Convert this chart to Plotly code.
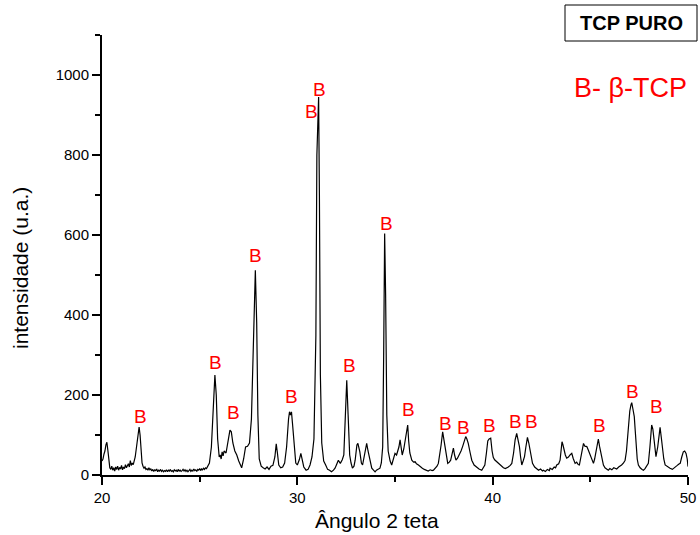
import plotly.graph_objects as go

# Diffractogram (2theta, intensity)
two_theta = [
    20.00, 20.05, 20.10, 20.15, 20.20, 20.25, 20.30, 20.35, 20.40, 20.45, 20.50, 20.55, 20.60, 20.65, 20.70,
    20.75, 20.80, 20.85, 20.90, 20.95, 21.00, 21.05, 21.10, 21.15, 21.20, 21.25, 21.30, 21.35, 21.40, 21.45,
    21.50, 21.55, 21.60, 21.70, 21.78, 21.85, 21.90, 21.95, 22.00, 22.05, 22.10, 22.15, 22.20, 22.25, 22.30,
    22.35, 22.40, 22.45, 22.50, 22.55, 22.60, 22.65, 22.70, 22.75, 22.80, 22.85, 22.90, 22.95, 23.00, 23.05,
    23.10, 23.15, 23.20, 23.25, 23.30, 23.35, 23.40, 23.45, 23.50, 23.55, 23.60, 23.65, 23.70, 23.75, 23.80,
    23.85, 23.90, 23.95, 24.00, 24.05, 24.10, 24.15, 24.20, 24.25, 24.30, 24.35, 24.40, 24.45, 24.50, 24.55,
    24.60, 24.65, 24.70, 24.75, 24.80, 24.85, 24.90, 24.95, 25.00, 25.05, 25.10, 25.15, 25.20, 25.25, 25.30,
    25.35, 25.40, 25.50, 25.60, 25.70, 25.78, 25.85, 25.92, 26.00, 26.05, 26.10, 26.15, 26.20, 26.25, 26.35,
    26.45, 26.55, 26.62, 26.70, 26.80, 26.90, 27.00, 27.10, 27.15, 27.25, 27.35, 27.45, 27.55, 27.65, 27.75,
    27.85, 27.92, 27.98, 28.05, 28.15, 28.25, 28.35, 28.45, 28.55, 28.65, 28.75, 28.85, 28.92, 28.98, 29.05,
    29.15, 29.25, 29.35, 29.45, 29.55, 29.60, 29.65, 29.70, 29.75, 29.85, 29.92, 30.00, 30.10, 30.18, 30.25,
    30.33, 30.45, 30.55, 30.65, 30.75, 30.85, 30.95, 31.00, 31.05, 31.09, 31.13, 31.18, 31.25, 31.35, 31.45,
    31.55, 31.65, 31.75, 31.85, 31.93, 32.00, 32.10, 32.20, 32.30, 32.38, 32.45, 32.53, 32.60, 32.68, 32.75,
    32.82, 32.90, 32.96, 33.05, 33.10, 33.20, 33.28, 33.34, 33.42, 33.48, 33.55, 33.62, 33.68, 33.75, 33.81,
    33.90, 33.98, 34.05, 34.15, 34.23, 34.30, 34.37, 34.42, 34.47, 34.52, 34.58, 34.65, 34.75, 34.83, 34.92,
    35.00, 35.08, 35.13, 35.20, 35.26, 35.32, 35.37, 35.45, 35.51, 35.58, 35.65, 35.70, 35.76, 35.86, 35.95,
    36.03, 36.10, 36.20, 36.30, 36.40, 36.50, 36.60, 36.70, 36.80, 36.90, 36.97, 37.05, 37.15, 37.22, 37.30,
    37.36, 37.44, 37.50, 37.55, 37.62, 37.70, 37.78, 37.85, 37.92, 37.99, 38.05, 38.12, 38.20, 38.29, 38.38,
    38.46, 38.55, 38.62, 38.68, 38.75, 38.85, 38.93, 39.05, 39.18, 39.30, 39.44, 39.52, 39.60, 39.68, 39.75,
    39.82, 39.90, 39.97, 40.03, 40.10, 40.20, 40.30, 40.40, 40.47, 40.55, 40.65, 40.72, 40.80, 40.90, 40.98,
    41.07, 41.15, 41.23, 41.30, 41.37, 41.43, 41.49, 41.56, 41.63, 41.70, 41.78, 41.85, 41.92, 41.98, 42.04,
    42.15, 42.25, 42.35, 42.45, 42.55, 42.60, 42.70, 42.80, 42.90, 42.94, 43.05, 43.15, 43.22, 43.28, 43.38,
    43.45, 43.50, 43.55, 43.60, 43.65, 43.72, 43.79, 43.88, 43.96, 44.05, 44.12, 44.22, 44.30, 44.38, 44.44,
    44.52, 44.58, 44.65, 44.72, 44.82, 44.90, 44.99, 45.08, 45.16, 45.22, 45.29, 45.35, 45.41, 45.47, 45.53,
    45.60, 45.67, 45.75, 45.85, 45.92, 46.00, 46.10, 46.20, 46.27, 46.35, 46.45, 46.55, 46.60, 46.70, 46.78,
    46.85, 46.95, 47.02, 47.08, 47.12, 47.18, 47.25, 47.30, 47.34, 47.40, 47.46, 47.55, 47.65, 47.72, 47.80,
    47.90, 47.97, 48.05, 48.14, 48.20, 48.25, 48.30, 48.36, 48.45, 48.52, 48.57, 48.63, 48.69, 48.76, 48.83,
    48.95, 49.08, 49.20, 49.34, 49.45, 49.52, 49.60, 49.68, 49.76, 49.83, 49.90, 49.96, 50.00,
]
intensity = [
    35, 40, 52, 60, 75, 82, 62, 30, 18, 14, 22, 12, 18, 10, 20,
    14, 22, 12, 19, 15, 24, 13, 20, 16, 26, 18, 22, 28, 20, 36,
    24, 30, 26, 45, 75, 110, 120, 100, 55, 30, 22, 17, 20, 14, 16,
    12, 18, 13, 15, 10, 14, 9, 13, 11, 15, 8, 12, 10, 14, 9,
    12, 8, 11, 9, 13, 8, 12, 10, 14, 9, 11, 8, 13, 10, 12,
    8, 14, 10, 12, 9, 11, 14, 10, 13, 9, 12, 8, 11, 14, 9,
    12, 10, 15, 11, 13, 9, 14, 12, 16, 11, 15, 13, 17, 14, 18,
    16, 20, 30, 70, 170, 250, 200, 90, 45, 50, 40, 58, 48, 60, 55,
    80, 112, 108, 80, 60, 50, 35, 20, 18, 40, 70, 72, 80, 140, 330,
    512, 380, 150, 40, 22, 18, 15, 20, 14, 22, 24, 45, 78, 55, 25,
    18, 20, 30, 70, 140, 158, 150, 158, 130, 60, 30, 25, 38, 54, 35,
    20, 12, 14, 25, 45, 90, 350, 800, 905, 945, 700, 250, 80, 35, 25,
    14, 12, 8, 12, 17, 25, 37, 29, 38, 50, 130, 237, 150, 50, 30,
    17, 22, 37, 75, 79, 58, 30, 25, 45, 68, 79, 60, 46, 25, 17,
    12, 8, 12, 14, 17, 30, 70, 300, 604, 450, 150, 60, 35, 25, 40,
    54, 50, 58, 70, 88, 60, 50, 65, 84, 100, 125, 85, 55, 37, 32,
    33, 28, 25, 20, 17, 14, 12, 10, 13, 11, 12, 16, 22, 29, 50,
    75, 108, 90, 71, 45, 29, 32, 37, 52, 67, 50, 37, 42, 50, 60,
    71, 88, 96, 90, 79, 55, 37, 25, 19, 15, 12, 18, 25, 55, 85,
    90, 92, 60, 44, 38, 33, 28, 24, 21, 18, 16, 17, 20, 24, 29,
    55, 88, 104, 90, 71, 45, 25, 35, 46, 70, 94, 80, 62, 45, 29,
    20, 17, 12, 15, 10, 12, 9, 14, 11, 17, 14, 20, 18, 25, 28,
    37, 60, 83, 75, 62, 50, 42, 45, 50, 54, 42, 29, 32, 26, 25,
    45, 65, 79, 72, 71, 62, 50, 40, 29, 40, 58, 75, 90, 72, 58,
    38, 25, 18, 14, 12, 16, 13, 18, 17, 15, 20, 22, 25, 30, 37,
    60, 121, 160, 175, 181, 165, 146, 110, 71, 40, 25, 18, 14, 12, 16,
    22, 29, 70, 125, 115, 96, 70, 46, 70, 105, 119, 95, 67, 40, 25,
    20, 17, 14, 21, 24, 27, 29, 45, 58, 60, 54, 40, 21,
]

# "B" (beta-TCP) peak markers
label_x = [21.95, 25.79, 26.72, 27.88, 29.68, 30.70, 31.13, 32.65, 34.57, 35.68,
           37.56, 38.50, 39.82, 41.15, 42.00, 45.45, 47.15, 48.40]
label_y = [146, 281, 157, 548, 196, 910, 964, 275, 629, 164,
           129, 118, 123, 133, 133, 125, 208, 171]
label_text = "B"

x_ticks = [20, 30, 40, 50]
y_ticks = [0, 200, 400, 600, 800, 1000]

FONT = "Liberation Sans, Arial, sans-serif"

# plot area in pixels
L, R, T, B = 102, 688, 35, 475
PW, PH = R - L, B - T


def px(xp):
    return (xp - L) / PW


def py(yp):
    return (B - yp) / PH


fig = go.Figure()
fig.add_trace(go.Scatter(x=two_theta, y=intensity, mode="lines",
                         line=dict(color="black", width=1.2), showlegend=False,
                         hoverinfo="skip"))

annotations = []
for lx, ly in zip(label_x, label_y):
    annotations.append(dict(x=lx, y=ly, xref="x", yref="y", text=label_text,
                            xanchor="center", yanchor="middle",
                            showarrow=False, font=dict(family=FONT, size=19, color="#ff0000")))

annotations.append(dict(x=px(20), y=py(268), xref="paper", yref="paper",
                        xanchor="center", yanchor="middle",
                        text="intensidade (u.a.)", textangle=-90, showarrow=False,
                        font=dict(family=FONT, size=21, color="black")))
annotations.append(dict(x=px(377), y=py(520), xref="paper", yref="paper",
                        xanchor="center", yanchor="middle",
                        text="Ângulo 2 teta", showarrow=False,
                        font=dict(family=FONT, size=21, color="black")))
annotations.append(dict(x=px(631), y=py(23), xref="paper", yref="paper",
                        xanchor="center", yanchor="middle",
                        text="<b>TCP PURO</b>", showarrow=False,
                        font=dict(family=FONT, size=20, color="black")))
annotations.append(dict(x=px(630), y=py(88), xref="paper", yref="paper",
                        xanchor="center", yanchor="middle",
                        text="B- β-TCP", showarrow=False,
                        font=dict(family=FONT, size=27, color="#ff0000")))

fig.update_layout(
    width=700, height=535,
    margin=dict(l=L, r=700 - R, t=T, b=535 - B, autoexpand=False),
    paper_bgcolor="white", plot_bgcolor="white",
    annotations=annotations,
    shapes=[dict(type="rect", xref="paper", yref="paper",
                 x0=px(565), x1=px(697), y0=py(41), y1=py(5),
                 line=dict(color="black", width=1))],
    font=dict(family=FONT, size=15, color="black"),
)
fig.update_xaxes(range=[20, 50], tickvals=x_ticks, showline=True, linecolor="black", linewidth=2,
                 ticks="outside", ticklen=8, tickwidth=2, tickcolor="black", automargin=False,
                 minor=dict(ticks="outside", ticklen=5, tickwidth=2, dtick=5, tickcolor="black"),
                 showgrid=False, zeroline=False, tickfont=dict(size=15))
fig.update_yaxes(range=[0, 1100], tickvals=y_ticks, showline=True, linecolor="black", linewidth=2,
                 ticks="outside", ticklen=8, tickwidth=2, tickcolor="black", automargin=False,
                 minor=dict(ticks="outside", ticklen=5, tickwidth=2, dtick=100, tickcolor="black"),
                 showgrid=False, zeroline=False, tickfont=dict(size=15))

fig.write_html("out.html")
